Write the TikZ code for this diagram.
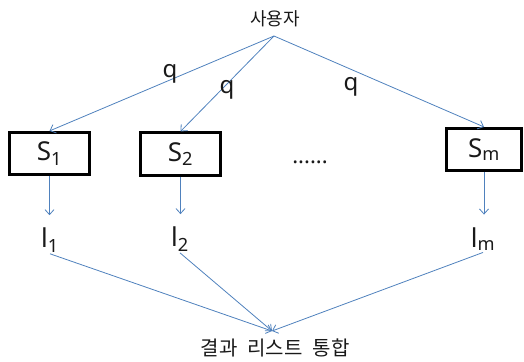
\documentclass[tikz,border=0pt]{standalone}
\usepackage{fontspec}
\setmainfont{Noto Sans}
\newfontfamily\krfont{Noto Sans CJK KR}
\usetikzlibrary{arrows.meta}
\definecolor{flowblue}{RGB}{79,129,189}
\definecolor{ink}{RGB}{25,25,25}
\begin{document}
\begin{tikzpicture}[x=1pt,y=-1pt,
  server/.style={draw=black, line width=2.6pt, inner sep=0pt,
    minimum width=80.5pt, minimum height=42.5pt, text=ink,
    font=\fontsize{26}{28}\selectfont},
  partial/.style={inner sep=1.5pt, text=ink, font=\fontsize{26}{28}\selectfont},
  query/.style={inner sep=0pt, text=ink, font=\fontsize{24}{26}\selectfont},
  krlabel/.style={inner sep=0pt, text=ink, font=\krfont\fontsize{18}{20}\selectfont},
  flow/.style={draw=flowblue, line width=0.8pt,
    -{Straight Barb[length=5pt,width=9pt]}},
]
\useasboundingbox (0,0) rectangle (524,361);

% source and query fan-out
\node[krlabel] (user) at (275,19) {사용자};
\coordinate (apex) at (274,36);

\node[server] (s1) at (49.5,153.5) {S\textsubscript{1}};
\node[server] (s2) at (180.5,154) {S\textsubscript{2}};
\node[server, minimum width=75.5pt] (sm) at (484,149.5) {S\textsubscript{m}};
\node[inner sep=0pt, text=ink, font=\fontsize{22}{24}\selectfont] (dots) at (310,162) {......};

\draw[flow] (apex) -- (s1.north);
\draw[flow] (apex) -- (s2.north);
\draw[flow] (apex) -- (sm.north);

\node[query] (q1) at (170,74) {q};
\node[query] (q2) at (227,90) {q};
\node[query] (q3) at (351,87) {q};

% partial result lists
\node[partial] (l1) at (50,240) {l\textsubscript{1}};
\node[partial] (l2) at (180,239) {l\textsubscript{2}};
\node[partial] (lm) at (483,239) {l\textsubscript{m}};

\draw[flow, shorten >=11pt] (s1.south) -- (s1.south |- l1.north);
\draw[flow, shorten >=11pt] (s2.south) -- (s2.south |- l2.north);
\draw[flow, shorten >=11pt] (sm.south) -- (sm.south |- lm.north);

% merge
\coordinate (merge) at (272,331);
\node[krlabel, font=\krfont\fontsize{20}{22}\selectfont] (merged) at (275,348)
  {결과\hspace{10pt}리스트\hspace{10pt}통합};

\draw[flow] (l1.south) -- (merge);
\draw[flow] (l2.south) -- (merge);
\draw[flow] (lm.south) -- (merge);
\end{tikzpicture}
\end{document}
